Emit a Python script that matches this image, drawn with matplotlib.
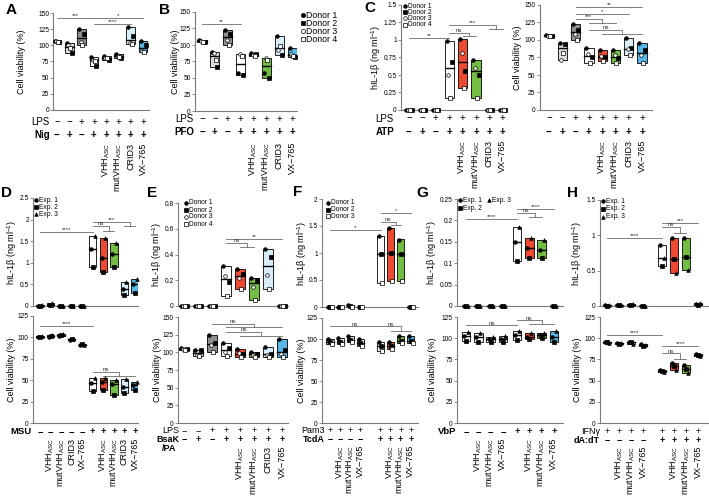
import numpy as np
import matplotlib.pyplot as plt
from matplotlib.lines import Line2D
from matplotlib.ticker import FuncFormatter

plt.rcParams['font.family'] = ['Liberation Sans', 'DejaVu Sans']
plt.rcParams['mathtext.fontset'] = 'custom'
plt.rcParams['mathtext.rm'] = 'Liberation Sans'
plt.rcParams['mathtext.it'] = 'Liberation Sans:italic'
plt.rcParams['mathtext.bf'] = 'Liberation Sans:bold'

W, H = 709, 498

# category labels under the panels
VHH = r'VHH$_{\mathrm{ASC}}$'
MUT = r'mutVHH$_{\mathrm{ASC}}$'
VX = 'VX\u2212765'
STD_CATS = ['', '', '', '', VHH, MUT, 'CRID3', VX]
D_CATS = ['', VHH, MUT, 'CRID3', VX, '', VHH, MUT, 'CRID3', VX]
GROUP_CATS = ['', VHH, MUT, VX, '', VHH, MUT, VX]

# +/- rows
LPS_SIGNS = '--++++++'
STIM_SIGNS = '-+-+++++'
D_SIGNS = '-----+++++'
ALL_PLUS = '++++++++'
SECOND_GROUP = '----++++'

# box fill keys
STD_COLORS = ['w', 'lg', 'dg', 'w', 'r', 'g', 'lb', 'b']
D_COLORS = ['w', 'r', 'g', 'lb', 'b'] * 2
F_COLORS = ['lg'] * 4 + ['w', 'r', 'g', 'b']
GH_COLORS = ['w'] * 4 + ['w', 'r', 'g', 'b']

# values (one list per category, one value per donor / experiment)
A_VIAB = [[107, 105, 106, 105], [103, 88, 100, 96], [125, 118, 105, 100], [82, 68, 78, 76],
          [84, 78, 81, 80], [87, 80, 84, 82], [128, 114, 104, 102], [107, 100, 92, 90]]
B_VIAB = [[107, 105, 106, 104], [90, 66, 88, 78], [123, 116, 108, 100], [57, 55, 86, 84],
          [88, 86, 85, 84], [58, 50, 80, 78], [113, 85, 92, 98], [95, 82, 86, 84]]
C_IL = [[0, 0, 0, 0], [0, 0, 0, 0], [0, 0, 0, 0], [0.98, 0.69, 0.5, 0.17],
        [1.02, 0.55, 0.82, 0.32], [0.72, 0.5, 0.6, 0.17], [0, 0, 0, 0], [0, 0, 0, 0]]
C_VIAB = [[107, 105, 106, 105], [95, 94, 72, 82], [123, 114, 108, 100], [88, 75, 80, 67],
          [86, 75, 77, 70], [86, 74, 78, 67], [103, 88, 87, 78], [95, 85, 78, 67]]
D_IL = [[0.01, 0.0, 0.02], [0.02, 0.03, 0.07], [0, 0, 0], [0, 0, 0], [0, 0, 0],
        [1.32, 0.9, 1.62], [1.1, 0.78, 1.57], [1.2, 0.9, 1.45], [0.4, 0.25, 0.55], [0.5, 0.31, 0.62]]
D_VIAB = [[100, 101, 102], [101, 102, 103], [102, 103, 104], [97, 98, 98], [91, 92, 91],
          [47, 37, 53], [48, 38, 52], [45, 33, 50], [42, 35, 51], [44, 38, 48]]
E_IL = [[0, 0, 0, 0], [0, 0, 0, 0], [0, 0, 0, 0], [0.31, 0.19, 0.23, 0.08],
        [0.29, 0.25, 0.22, 0.13], [0.22, 0.20, 0.15, 0.05], [0.44, 0.38, 0.24, 0.13], [0, 0, 0, 0]]
E_VIAB = [[106, 105, 105, 104], [104, 103, 96, 95], [124, 113, 110, 100], [113, 106, 100, 95],
          [105, 97, 99, 94], [101, 98, 96, 93], [107, 98, 96, 94], [119, 104, 98, 94]]
F_IL = [[0, 0, 0], [0, 0, 0], [0.03, 0.01, 0.0], [0, 0, 0],
        [1.32, 0.98, 0.45], [1.46, 1.0, 0.48], [1.25, 0.99, 0.48], [0, 0, 0]]
F_VIAB = [[100, 96, 94], [101, 97, 94], [104, 99, 96], [100, 95, 92],
          [97, 92, 86], [97, 92, 88], [104, 98, 95], [103, 98, 95]]
G_IL = [[0, 0, 0], [0, 0, 0], [0, 0, 0], [0, 0, 0],
        [0.15, 0.105, 0.185], [0.135, 0.113, 0.16], [0.13, 0.113, 0.155], [0, 0, 0]]
G_VIAB = [[103, 97, 107], [102, 96, 106], [99, 95, 101], [99, 95, 103],
          [104, 98, 109], [102, 99, 106], [104, 100, 106], [101, 95, 108]]
H_IL = [[0.01, 0.0, 0.01], [0.02, 0.01, 0.02], [0.02, 0.01, 0.03], [0, 0, 0],
        [0.87, 0.57, 0.68], [0.96, 0.67, 0.47], [0.96, 0.69, 0.51], [0.03, 0.02, 0.04]]
H_VIAB = [[96, 95, 94], [94, 93, 94], [96, 95, 93], [93, 91, 92],
          [63, 61, 60], [71, 67, 63], [68, 64, 59], [81, 80, 79]]

# significance: (from cat, to cat, y, label, optional sub-bracket (cat a, cat b, y))
A_SIG = [(0, 3, 142, '***', None), (3, 7, 142, '*', None), (3, 6, 133, '****', None)]
B_SIG = [(0, 3, 132, '**', None)]
C_IL_SIG = [(0, 3, 1.03, '**', None), (3, None, 1.1, 'ns', (4, 5, 1.05)),
            (3, None, 1.21, '***', (6, 7, 1.15))]
C_VIAB_SIG = [(2, 7, 147, '**', None), (2, 6, 137, '*', None),
              (2, None, 130, '***', (3, 5, 124)), (3, None, 114, 'ns', (4, 7, 108))]
D_IL_SIG = [(0, 5, 1.71, '****', None), (5, None, 1.94, '***', (8, 9, 1.86)),
            (5, None, 1.85, 'ns', (6, 7, 1.74))]
D_VIAB_SIG = [(0, 5, 113, '****', None), (5, None, 60, 'ns', (6, 9, 55))]
E_IL_SIG = [(3, 7, 0.52, '**', None), (3, None, 0.49, 'ns', (4, 5, 0.46))]
E_VIAB_SIG = [(2, None, 140, 'ns', (3, 7, 136)), (3, None, 129, 'ns', (4, 7, 123))]
F_IL_SIG = [(0, 4, 1.43, '*', None), (4, 7, 1.74, '*', None), (4, None, 1.58, 'ns', (5, 6, 1.52))]
F_VIAB_SIG = [(0, 4, 115, 'ns', None), (4, None, 115, 'ns', (5, 7, 110))]
G_IL_SIG = [(0, 4, 0.203, '****', None), (4, 7, 0.227, '****', None),
            (4, None, 0.217, 'ns', (5, 6, 0.208))]
G_VIAB_SIG = [(0, 4, 115, 'ns', None), (4, None, 121, 'ns', (5, 7, 117))]
H_IL_SIG = [(0, 4, 0.96, '****', None), (4, 7, 1.18, '***', None),
            (4, None, 1.12, 'ns', (5, 6, 1.03))]
H_VIAB_SIG = [(0, 4, 104, '****', None), (4, 7, 91, '****', None),
              (4, None, 82, 'ns', (5, 6, 76))]

COL = {'w': 'white', 'lg': '#dcdcdc', 'dg': '#8e8e8e', 'r': '#ec4a32',
       'g': '#74bd45', 'lb': '#d8edfa', 'b': '#58b6e6'}
DONOR_M = [('o', True), ('s', True), ('o', False), ('s', False)]
EXP_M = [('o', True), ('s', True), ('^', True)]
F_M = [('o', True), ('s', True), ('s', False)]
OFFS = {3: [-0.17, 0.0, 0.17], 4: [-0.2, 0.2, -0.07, 0.07]}
AXC = '#7a7a7a'

fig = plt.figure(figsize=(W / 100, H / 100), dpi=100)


def fx(x):
    return x / W


def fy(y):
    return 1 - y / H


def make_axes(x0, s, lo, hi, top, bottom, ymax, ticks):
    left, right = x0 + lo * s, x0 + hi * s
    ax = fig.add_axes([fx(left), fy(bottom), (right - left) / W, (bottom - top) / H])
    ax.set_xlim(lo, hi)
    ax.set_ylim(0, ymax)
    ax.patch.set_alpha(0)
    for sp in ['top', 'right']:
        ax.spines[sp].set_visible(False)
    for sp in ['left', 'bottom']:
        ax.spines[sp].set_color(AXC)
        ax.spines[sp].set_linewidth(0.8)
    ax.set_xticks([])
    ax.set_yticks(ticks)
    ax.yaxis.set_major_formatter(FuncFormatter(lambda v, _: f'{v:g}'))
    ax.tick_params(axis='y', length=2, width=0.6, color=AXC, labelsize=4.8, pad=1)
    return ax


def draw_boxes(ax, pos, vals, colors, markers):
    for p, v, c in zip(pos, vals, colors):
        lo, hi = min(v), max(v)
        ax.bar(p, hi - lo, bottom=lo, width=0.7, color=COL[c], edgecolor='black',
               linewidth=0.6, zorder=2)
        med = np.median(v)
        ax.plot([p - 0.35, p + 0.35], [med, med], color='black', lw=1.0, zorder=3)
        for val, (m, filled), o in zip(v, markers, OFFS[len(v)]):
            ax.plot(p + o, val, marker=m, ms=2.6, mfc='black' if filled else 'white',
                    mec='black', mew=0.5, ls='none', zorder=4, clip_on=False)


def draw_sig(ax, pos, sigs):
    kw = dict(color='#6a6a6a', lw=0.6, clip_on=False, zorder=1)
    for a, b, y, label, sub in sigs:
        if sub:
            xa, xb, y2 = pos[sub[0]], pos[sub[1]], sub[2]
            xe = (xa + xb) / 2
            ax.plot([pos[a], xe, xe], [y, y, y2], **kw)
            ax.plot([xa, xb], [y2, y2], **kw)
        else:
            xe = pos[b]
            ax.plot([pos[a], xe], [y, y], **kw)
        ax.annotate(label, ((pos[a] + xe) / 2, y), xytext=(0, 0.6), textcoords='offset points',
                    ha='center', va='baseline', fontsize=4.5, color='#333333')


def draw_rows(x0, s, pos, rows, fs=7):
    for label, signs, y, bold, lx in rows:
        w = 'bold' if bold else 'normal'
        if label:
            fig.text(fx(lx), fy(y), label, ha='right', va='center', fontsize=fs, fontweight=w)
        for p, sg in zip(pos, signs):
            fig.text(fx(x0 + p * s), fy(y), '+' if sg == '+' else '\u2212',
                     ha='center', va='center', fontsize=fs, fontweight=w)


def draw_cats(x0, s, pos, labels, y):
    for p, lab in zip(pos, labels):
        if lab:
            fig.text(fx(x0 + p * s), fy(y), lab, rotation=90, ha='center', va='top', fontsize=6.5)


def ylabel(x, top, bottom, text):
    fig.text(fx(x), fy((top + bottom) / 2), text, rotation=90, ha='center', va='center',
             fontsize=6.5)


def legend(items, fs=4.8, ms=2.6):
    for x, y, label, (m, filled) in items:
        fig.add_artist(Line2D([fx(x)], [fy(y)], marker=m, ms=ms, ls='none',
                              mfc='black' if filled else 'white', mec='black', mew=0.5,
                              transform=fig.transFigure))
        fig.text(fx(x + 3), fy(y), label, ha='left', va='center', fontsize=fs)


VIAB = 'Cell viability (%)'
IL = r'hIL-1β (ng ml$^{-1}$)'
T150 = [0, 25, 50, 75, 100, 125, 150]
T125 = [0, 25, 50, 75, 100, 125]
POS8 = [0, 1, 2, 3, 4, 5, 6, 7]
POS10 = list(range(10))
F_POS = [0, 1, 2, 3, 5, 6, 7, 8]
G_POS = [0, 1, 2, 3, 4.15, 5.15, 6.15, 7.15]
H_POS = [0, 1, 2, 3, 4.6, 5.6, 6.6, 7.6]

# ---------- A ----------
ax = make_axes(57, 12.3, -0.3, 7.5, 13, 110, 150, T150)
draw_boxes(ax, POS8, A_VIAB, STD_COLORS, DONOR_M)
draw_sig(ax, POS8, A_SIG)
ylabel(22, 13, 110, VIAB)
draw_rows(57, 12.3, POS8, [('LPS', LPS_SIGNS, 122, False, 50), ('Nig', STIM_SIGNS, 135, True, 50)])
draw_cats(57, 12.3, POS8, STD_CATS, 143)

# ---------- B ----------
ax = make_axes(202, 12.9, -0.55, 7.35, 12, 111, 150, T150)
draw_boxes(ax, POS8, B_VIAB, STD_COLORS, DONOR_M)
draw_sig(ax, POS8, B_SIG)
ylabel(175, 12, 111, VIAB)
draw_rows(202, 12.9, POS8, [('LPS', LPS_SIGNS, 119, False, 194), ('PFO', STIM_SIGNS, 132, True, 194)])
draw_cats(202, 12.9, POS8, STD_CATS, 142)
legend([(303, 15, 'Donor 1', DONOR_M[0]), (303, 23, 'Donor 2', DONOR_M[1]),
        (303, 31, 'Donor 3', DONOR_M[2]), (303, 39, 'Donor 4', DONOR_M[3])], fs=6.3, ms=3)

# ---------- C ----------
ax = make_axes(409, 13.4, -0.6, 7.3, 5, 110, 1.5, [0, 0.25, 0.5, 0.75, 1, 1.25, 1.5])
draw_boxes(ax, POS8, C_IL, STD_COLORS, DONOR_M)
draw_sig(ax, POS8, C_IL_SIG)
ylabel(376, 5, 110, IL)
draw_rows(409, 13.4, POS8, [('LPS', LPS_SIGNS, 118.5, False, 394), ('ATP', STIM_SIGNS, 132, True, 394)])
draw_cats(409, 13.4, POS8, STD_CATS, 140)
legend([(405, 6, 'Donor 1', DONOR_M[0]), (405, 12, 'Donor 2', DONOR_M[1]),
        (405, 18.5, 'Donor 3', DONOR_M[2]), (405, 25, 'Donor 4', DONOR_M[3])])

ax = make_axes(549, 13.3, -0.7, 7.75, 5, 110, 150, T150)
draw_boxes(ax, POS8, C_VIAB, STD_COLORS, DONOR_M)
draw_sig(ax, POS8, C_VIAB_SIG)
ylabel(518, 5, 110, VIAB)
draw_rows(549, 13.3, POS8, [('', LPS_SIGNS, 118.5, False, 0), ('', STIM_SIGNS, 132, True, 0)])
draw_cats(549, 13.3, POS8, STD_CATS, 140)

# ---------- D ----------
ax = make_axes(40, 10.56, -0.66, 9.3, 198, 306, 2.5, [0, 0.5, 1, 1.5, 2, 2.5])
draw_boxes(ax, POS10, D_IL, D_COLORS, EXP_M)
draw_sig(ax, POS10, D_IL_SIG)
ylabel(12, 198, 306, IL)
legend([(36, 200, 'Exp. 1', EXP_M[0]), (36, 207, 'Exp. 2', EXP_M[1]), (36, 214, 'Exp. 3', EXP_M[2])])

ax = make_axes(40, 10.56, -0.66, 9.3, 316, 423, 125, T125)
draw_boxes(ax, POS10, D_VIAB, D_COLORS, EXP_M)
draw_sig(ax, POS10, D_VIAB_SIG)
ylabel(12, 316, 423, VIAB)
draw_rows(40, 10.56, POS10, [('MSU', D_SIGNS, 431.5, True, 32)], fs=6.8)
draw_cats(40, 10.56, POS10, D_CATS, 438)

# ---------- E ----------
ax = make_axes(184, 14.0, -0.43, 7.43, 203, 306, 0.8, [0, 0.2, 0.4, 0.6, 0.8])
draw_boxes(ax, POS8, E_IL, STD_COLORS, DONOR_M)
draw_sig(ax, POS8, E_IL_SIG)
ylabel(157, 203, 306, IL)
legend([(186, 203, 'Donor 1', DONOR_M[0]), (186, 210, 'Donor 2', DONOR_M[1]),
        (186, 217, 'Donor 3', DONOR_M[2]), (186, 224, 'Donor 4', DONOR_M[3])])

ax = make_axes(184, 14.0, -0.43, 7.43, 317, 423, 150, T150)
draw_boxes(ax, POS8, E_VIAB, STD_COLORS, DONOR_M)
draw_sig(ax, POS8, E_VIAB_SIG)
ylabel(157, 317, 423, VIAB)
draw_rows(184, 14.0, POS8, [('LPS', LPS_SIGNS, 430.5, False, 179), ('BsaK', STIM_SIGNS, 439, True, 179)],
          fs=6.5)
fig.text(fx(176), fy(448.5), '/PA', ha='right', va='center', fontsize=6.5, fontweight='bold')
draw_cats(184, 14.0, POS8, STD_CATS, 446)

# ---------- F ----------
ax = make_axes(330, 10.1, -0.8, 8.7, 199, 307, 2, [0, 0.5, 1, 1.5, 2])
draw_boxes(ax, F_POS, F_IL, F_COLORS, F_M)
draw_sig(ax, F_POS, F_IL_SIG)
ylabel(302, 199, 307, IL)
legend([(328, 203, 'Donor 1', F_M[0]), (328, 209.5, 'Donor 2', F_M[1]), (328, 216, 'Donor 3', F_M[2])])

ax = make_axes(330, 10.1, -0.8, 8.7, 318, 423, 125, T125)
draw_boxes(ax, F_POS, F_VIAB, F_COLORS, F_M)
draw_sig(ax, F_POS, F_VIAB_SIG)
ylabel(302, 318, 423, VIAB)
draw_rows(330, 10.1, F_POS, [('Pam3', ALL_PLUS, 430.5, False, 325), ('TcdA', SECOND_GROUP, 439, True, 325)],
          fs=6.5)
draw_cats(330, 10.1, F_POS, GROUP_CATS, 445)

# ---------- G ----------
ax = make_axes(466, 12.3, -0.75, 7.87, 199, 306, 0.25, [0, 0.05, 0.1, 0.15, 0.2, 0.25])
draw_boxes(ax, G_POS, G_IL, GH_COLORS, EXP_M)
draw_sig(ax, G_POS, G_IL_SIG)
ylabel(432, 199, 306, IL)
legend([(460, 200, 'Exp. 1', EXP_M[0]), (489, 200, 'Exp. 3', EXP_M[2]), (460, 208, 'Exp. 2', EXP_M[1])])

ax = make_axes(466, 12.3, -0.75, 7.87, 317, 423, 125, T125)
draw_boxes(ax, G_POS, G_VIAB, GH_COLORS, EXP_M)
draw_sig(ax, G_POS, G_VIAB_SIG)
ylabel(432, 317, 423, VIAB)
draw_rows(466, 12.3, G_POS, [('VbP', SECOND_GROUP, 431.5, True, 456)], fs=6.8)
draw_cats(466, 12.3, G_POS, GROUP_CATS, 438)

# ---------- H ----------
ax = make_axes(607, 12.0, -0.6, 8.4, 200, 306, 1.5, [0, 0.5, 1, 1.5])
draw_boxes(ax, H_POS, H_IL, GH_COLORS, EXP_M)
draw_sig(ax, H_POS, H_IL_SIG)
ylabel(577, 200, 306, IL)
legend([(603, 201, 'Exp. 1', EXP_M[0]), (603, 209, 'Exp. 2', EXP_M[1]), (603, 217, 'Exp. 3', EXP_M[2])])

ax = make_axes(607, 12.0, -0.6, 8.4, 317, 423, 125, T125)
draw_boxes(ax, H_POS, H_VIAB, GH_COLORS, EXP_M)
draw_sig(ax, H_POS, H_VIAB_SIG)
ylabel(577, 317, 423, VIAB)
draw_rows(607, 12.0, H_POS, [('IFNγ', ALL_PLUS, 431, False, 600), ('dA:dT', SECOND_GROUP, 440, True, 600)],
          fs=6.5)
draw_cats(607, 12.0, H_POS, GROUP_CATS, 446)

# panel letters
for letter, x, y in [('A', 11, 10), ('B', 165, 10), ('C', 370, 8), ('D', 6, 193),
                     ('E', 152, 193), ('F', 298, 192), ('G', 422, 193), ('H', 572, 193)]:
    fig.text(fx(x), fy(y), letter, ha='center', va='center', fontsize=11, fontweight='bold')

fig.savefig('out.png', dpi=100)
